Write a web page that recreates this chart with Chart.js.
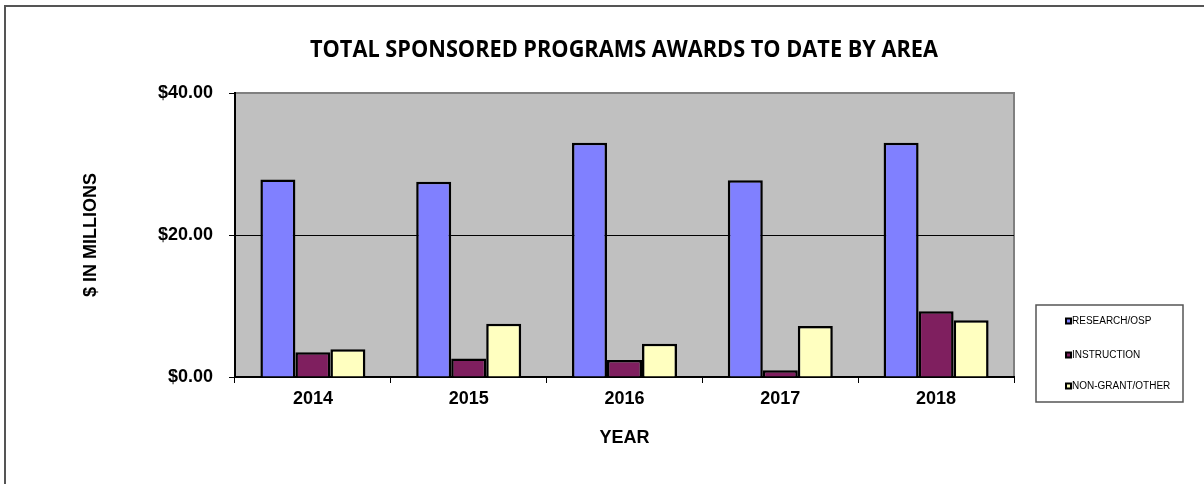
<!DOCTYPE html>
<html>
<head>
<meta charset="utf-8">
<script src="https://cdn.jsdelivr.net/npm/chart.js@4/dist/chart.umd.min.js"></script>
<style>
  html, body { margin: 0; padding: 0; background: #fff; }
  #wrap { width: 1204px; height: 484px; position: relative; }
</style>
</head>
<body>
<div id="wrap"><canvas id="c" width="1204" height="484"></canvas></div>
<script>
const years = ['2014', '2015', '2016', '2017', '2018'];
const seriesNames = ['RESEARCH/OSP', 'INSTRUCTION', 'NON-GRANT/OTHER'];
const research = [27.8, 27.5, 33.0, 27.7, 33.0];
const instruction = [3.5, 2.6, 2.4, 0.95, 9.25];
const nonGrant = [3.9, 7.5, 4.7, 7.2, 8.0];
const yTicks = [0, 20, 40];
const colors = ['#8080FF', '#7F1F5F', '#FFFFC0'];

const chartTitle = 'TOTAL SPONSORED PROGRAMS AWARDS TO DATE BY AREA';
const xTitle = 'YEAR';
const yTitle = '$ IN MILLIONS';

const AX_FONT = 'Liberation Sans, Arial, sans-serif';

const framePlugin = {
  id: 'frame',
  beforeDraw(chart) {
    const ctx = chart.ctx;
    const a = chart.chartArea;
    ctx.save();
    ctx.strokeStyle = '#555';
    ctx.lineWidth = 2;
    ctx.beginPath();
    ctx.moveTo(5, 484);
    ctx.lineTo(5, 6);
    ctx.lineTo(1204, 6);
    ctx.stroke();
    ctx.fillStyle = '#C0C0C0';
    ctx.fillRect(a.left, a.top, a.right - a.left, a.bottom - a.top);
    ctx.strokeStyle = '#808080';
    ctx.lineWidth = 2;
    ctx.beginPath();
    ctx.moveTo(a.left, a.top);
    ctx.lineTo(a.right, a.top);
    ctx.lineTo(a.right, a.bottom);
    ctx.stroke();
    ctx.restore();
  },
  afterDraw(chart) {
    const ctx = chart.ctx;
    ctx.save();
    ctx.font = 'bold 23px "Open Sans", sans-serif';
    ctx.fillStyle = '#000';
    ctx.textBaseline = 'middle';
    ctx.textAlign = 'center';
    const w = ctx.measureText(chartTitle).width;
    const target = 628;
    const sx = target / w;
    ctx.translate(624, 50);
    ctx.scale(sx, 1);
    ctx.fillText(chartTitle, 0, 0);
    ctx.restore();

    ctx.save();
    const bx = 1036, by = 305, bw = 147, bh = 97;
    ctx.fillStyle = '#fff';
    ctx.fillRect(bx, by, bw, bh);
    ctx.strokeStyle = '#555';
    ctx.lineWidth = 1.5;
    ctx.strokeRect(bx, by, bw, bh);
    const ys = [321, 355, 386];
    ctx.font = '10px ' + AX_FONT;
    ctx.textBaseline = 'middle';
    ctx.textAlign = 'left';
    chart.data.datasets.forEach((ds, i) => {
      const y = ys[i];
      ctx.fillStyle = '#000';
      ctx.fillRect(1065, y - 3.5, 7, 7);
      ctx.fillStyle = ds.backgroundColor;
      ctx.fillRect(1067, y - 1.5, 3, 3);
      ctx.fillStyle = '#000';
      ctx.fillText(ds.label, 1072, y + 0.5);
    });
    ctx.restore();
  }
};

new Chart(document.getElementById('c'), {
  type: 'bar',
  data: {
    labels: years,
    datasets: [
      { label: seriesNames[0], data: research, backgroundColor: colors[0] },
      { label: seriesNames[1], data: instruction, backgroundColor: colors[1] },
      { label: seriesNames[2], data: nonGrant, backgroundColor: colors[2] }
    ]
  },
  options: {
    responsive: false,
    animation: false,
    devicePixelRatio: 1,
    layout: { padding: { left: 80, right: 190, top: 93, bottom: 0 }, autoPadding: false },
    datasets: {
      bar: {
        borderColor: '#000',
        borderWidth: 2.5,
        categoryPercentage: 0.674,
        barPercentage: 1.0
      }
    },
    plugins: {
      legend: { display: false },
      title: { display: false },
      tooltip: { enabled: false }
    },
    scales: {
      x: {
        afterFit(scale) { scale.height = 107; },
        grid: {
          offset: true,
          drawOnChartArea: false,
          drawTicks: true,
          tickLength: 6,
          color: '#000',
          lineWidth: 1
        },
        border: { display: true, color: '#000', width: 2 },
        ticks: {
          color: '#000',
          padding: 5,
          font: { family: AX_FONT, size: 18, weight: 'bold' }
        },
        title: {
          display: true,
          text: xTitle,
          color: '#000',
          font: { family: AX_FONT, size: 18, weight: 'bold' },
          padding: { top: 4, bottom: 35 }
        }
      },
      y: {
        min: 0,
        max: 40,
        afterFit(scale) { scale.width = 155; },
        afterBuildTicks(scale) { scale.ticks = yTicks.map(v => ({ value: v })); },
        grid: {
          color: ctx => (ctx.tick && ctx.tick.value === 40) ? '#808080' : '#000',
          tickColor: '#000',
          lineWidth: 1,
          drawTicks: true,
          tickLength: 6
        },
        border: { display: true, color: '#000', width: 2 },
        ticks: {
          color: '#000',
          padding: 16,
          font: { family: AX_FONT, size: 18, weight: 'bold' },
          callback: v => '$' + Number(v).toFixed(2)
        },
        title: {
          display: true,
          text: yTitle,
          color: '#000',
          font: { family: AX_FONT, size: 18, weight: 'bold' },
          padding: 0
        }
      }
    }
  },
  plugins: [framePlugin]
});
</script>
</body>
</html>
